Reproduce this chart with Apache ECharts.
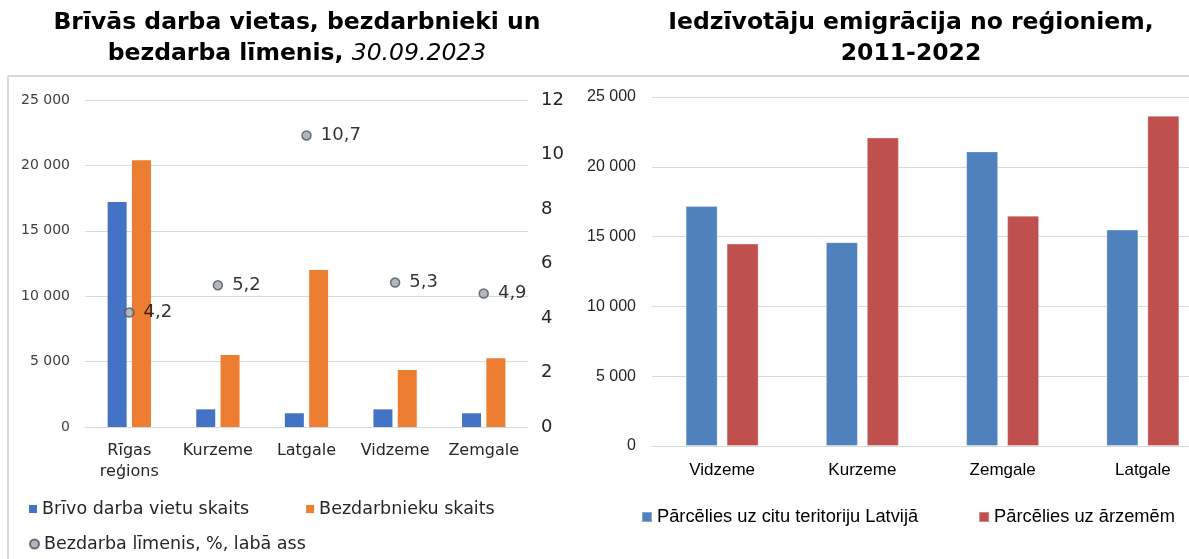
<!DOCTYPE html>
<html>
<head>
<meta charset="utf-8">
<script src="https://cdn.jsdelivr.net/npm/echarts@6/dist/echarts.min.js"></script>
<style>
  html, body { margin: 0; padding: 0; background: #fff; }
  #main { width: 1189px; height: 559px; }
</style>
</head>
<body>
<div id="main"></div>
<script>
// kreisais grafiks
const regionsLeft = ['Rīgas\nreģions', 'Kurzeme', 'Latgale', 'Vidzeme', 'Zemgale'];
const vacancies = [17200, 1350, 1050, 1350, 1050];
const unemployed = [20400, 5500, 12000, 4350, 5250];
const unemploymentRate = [4.2, 5.2, 10.7, 5.3, 4.9];
// labais grafiks
const regionsRight = ['Vidzeme', 'Kurzeme', 'Zemgale', 'Latgale'];
const movedInLatvia = [17200, 14600, 21100, 15500];
const movedAbroad = [14500, 22100, 16500, 23650];

const fmt = v => String(v).replace(/\B(?=(\d{3})+(?!\d))/g, ' ');
const LF = 'DejaVu Sans';
const RF = 'Liberation Sans';

let chart = echarts.init(document.getElementById('main'), null, { renderer: 'canvas' });

chart.setOption({
  animation: false,
  backgroundColor: '#fff',
  title: [
    {
      text: 'Brīvās darba vietas, bezdarbnieki un\nbezdarba līmenis, {i|30.09.2023}',
      left: 297, top: 7, textAlign: 'center', padding: 0,
      textStyle: {
        fontFamily: LF, fontSize: 23.5, fontWeight: 'bold', color: '#000', lineHeight: 31,
        rich: { i: { fontFamily: LF, fontSize: 23.5, fontWeight: 'normal', fontStyle: 'italic', color: '#000', lineHeight: 31 } }
      }
    },
    {
      text: 'Iedzīvotāju emigrācija no reģioniem,\n2011-2022',
      left: 911, top: 7, textAlign: 'center', padding: 0,
      textStyle: { fontFamily: LF, fontSize: 23.5, fontWeight: 'bold', color: '#000', lineHeight: 31 }
    }
  ],
  graphic: [
    { type: 'line', shape: { x1: 8, y1: 76, x2: 1189, y2: 76 }, style: { stroke: '#D9D9D9', lineWidth: 2 } },
    { type: 'line', shape: { x1: 8, y1: 76, x2: 8, y2: 559 }, style: { stroke: '#D9D9D9', lineWidth: 2 } }
  ],
  legend: [
    {
      data: ['Brīvo darba vietu skaits', 'Bezdarbnieku skaits'],
      left: 29, top: 500, padding: 0, icon: 'rect', itemWidth: 8, itemHeight: 8, itemGap: 57,
      textStyle: { fontFamily: LF, fontSize: 17.5, color: '#262626' }
    },
    {
      data: ['Bezdarba līmenis, %, labā ass'],
      left: 29, top: 535, padding: 0, itemWidth: 9, itemHeight: 9,
      textStyle: { fontFamily: LF, fontSize: 17.5, color: '#262626' }
    },
    {
      data: ['Pārcēlies uz citu teritoriju Latvijā', 'Pārcēlies uz ārzemēm'],
      left: 641, top: 508, padding: 0, icon: 'rect', itemWidth: 10, itemHeight: 10, itemGap: 60,
      textStyle: { fontFamily: RF, fontSize: 18.3, color: '#000' }
    }
  ],
  grid: [
    { left: 85, top: 100, width: 443, height: 327, outerBoundsMode: 'none' },
    { left: 652, top: 97, width: 561, height: 349, outerBoundsMode: 'none' }
  ],
  xAxis: [
    {
      type: 'category', gridIndex: 0, data: regionsLeft,
      axisLine: { lineStyle: { color: '#D9D9D9' } }, axisTick: { show: false },
      axisLabel: { fontFamily: LF, fontSize: 16, color: '#262626', margin: 13, lineHeight: 21, interval: 0 }
    },
    {
      type: 'category', gridIndex: 1, data: regionsRight,
      axisLine: { lineStyle: { color: '#D9D9D9' } }, axisTick: { show: false },
      axisLabel: { fontFamily: RF, fontSize: 17, color: '#000', margin: 16, interval: 0 }
    }
  ],
  yAxis: [
    {
      type: 'value', gridIndex: 0, min: 0, max: 25000, interval: 5000,
      splitLine: { lineStyle: { color: '#D9D9D9' } },
      axisLabel: { fontFamily: LF, fontSize: 14, color: '#404040', margin: 15, formatter: fmt }
    },
    {
      type: 'value', gridIndex: 0, min: 0, max: 12, interval: 2, position: 'right',
      splitLine: { show: false },
      axisLabel: { fontFamily: LF, fontSize: 18, color: '#262626', margin: 13 }
    },
    {
      type: 'value', gridIndex: 1, min: 0, max: 25000, interval: 5000,
      splitLine: { lineStyle: { color: '#D9D9D9' } },
      axisLabel: { fontFamily: RF, fontSize: 16, color: '#262626', margin: 16, formatter: fmt }
    }
  ],
  series: [
    {
      name: 'Brīvo darba vietu skaits', type: 'bar', xAxisIndex: 0, yAxisIndex: 0,
      data: vacancies, barWidth: 19, barGap: '28%', itemStyle: { color: '#4472C4' }
    },
    {
      name: 'Bezdarbnieku skaits', type: 'bar', xAxisIndex: 0, yAxisIndex: 0,
      data: unemployed, barWidth: 19, barGap: '28%', itemStyle: { color: '#ED7D31' }
    },
    {
      name: 'Bezdarba līmenis, %, labā ass', type: 'scatter', xAxisIndex: 0, yAxisIndex: 1,
      data: unemploymentRate, symbol: 'circle', symbolSize: 9, z: 5,
      itemStyle: { color: '#A5A5A5', borderColor: '#44546A', borderWidth: 1.5 },
      label: {
        show: true, position: 'right', distance: 9,
        fontFamily: LF, fontSize: 18, color: '#000',
        formatter: p => String(p.value).replace('.', ',')
      }
    },
    {
      name: 'Pārcēlies uz citu teritoriju Latvijā', type: 'bar', xAxisIndex: 1, yAxisIndex: 2,
      data: movedInLatvia, barWidth: 32, barGap: '28%',
      itemStyle: { color: '#4F81BD', borderColor: 'rgba(255,255,255,0.3)', borderWidth: 1 }
    },
    {
      name: 'Pārcēlies uz ārzemēm', type: 'bar', xAxisIndex: 1, yAxisIndex: 2,
      data: movedAbroad, barWidth: 32, barGap: '28%',
      itemStyle: { color: '#C0504D', borderColor: 'rgba(255,255,255,0.3)', borderWidth: 1 }
    }
  ]
});
</script>
</body>
</html>
